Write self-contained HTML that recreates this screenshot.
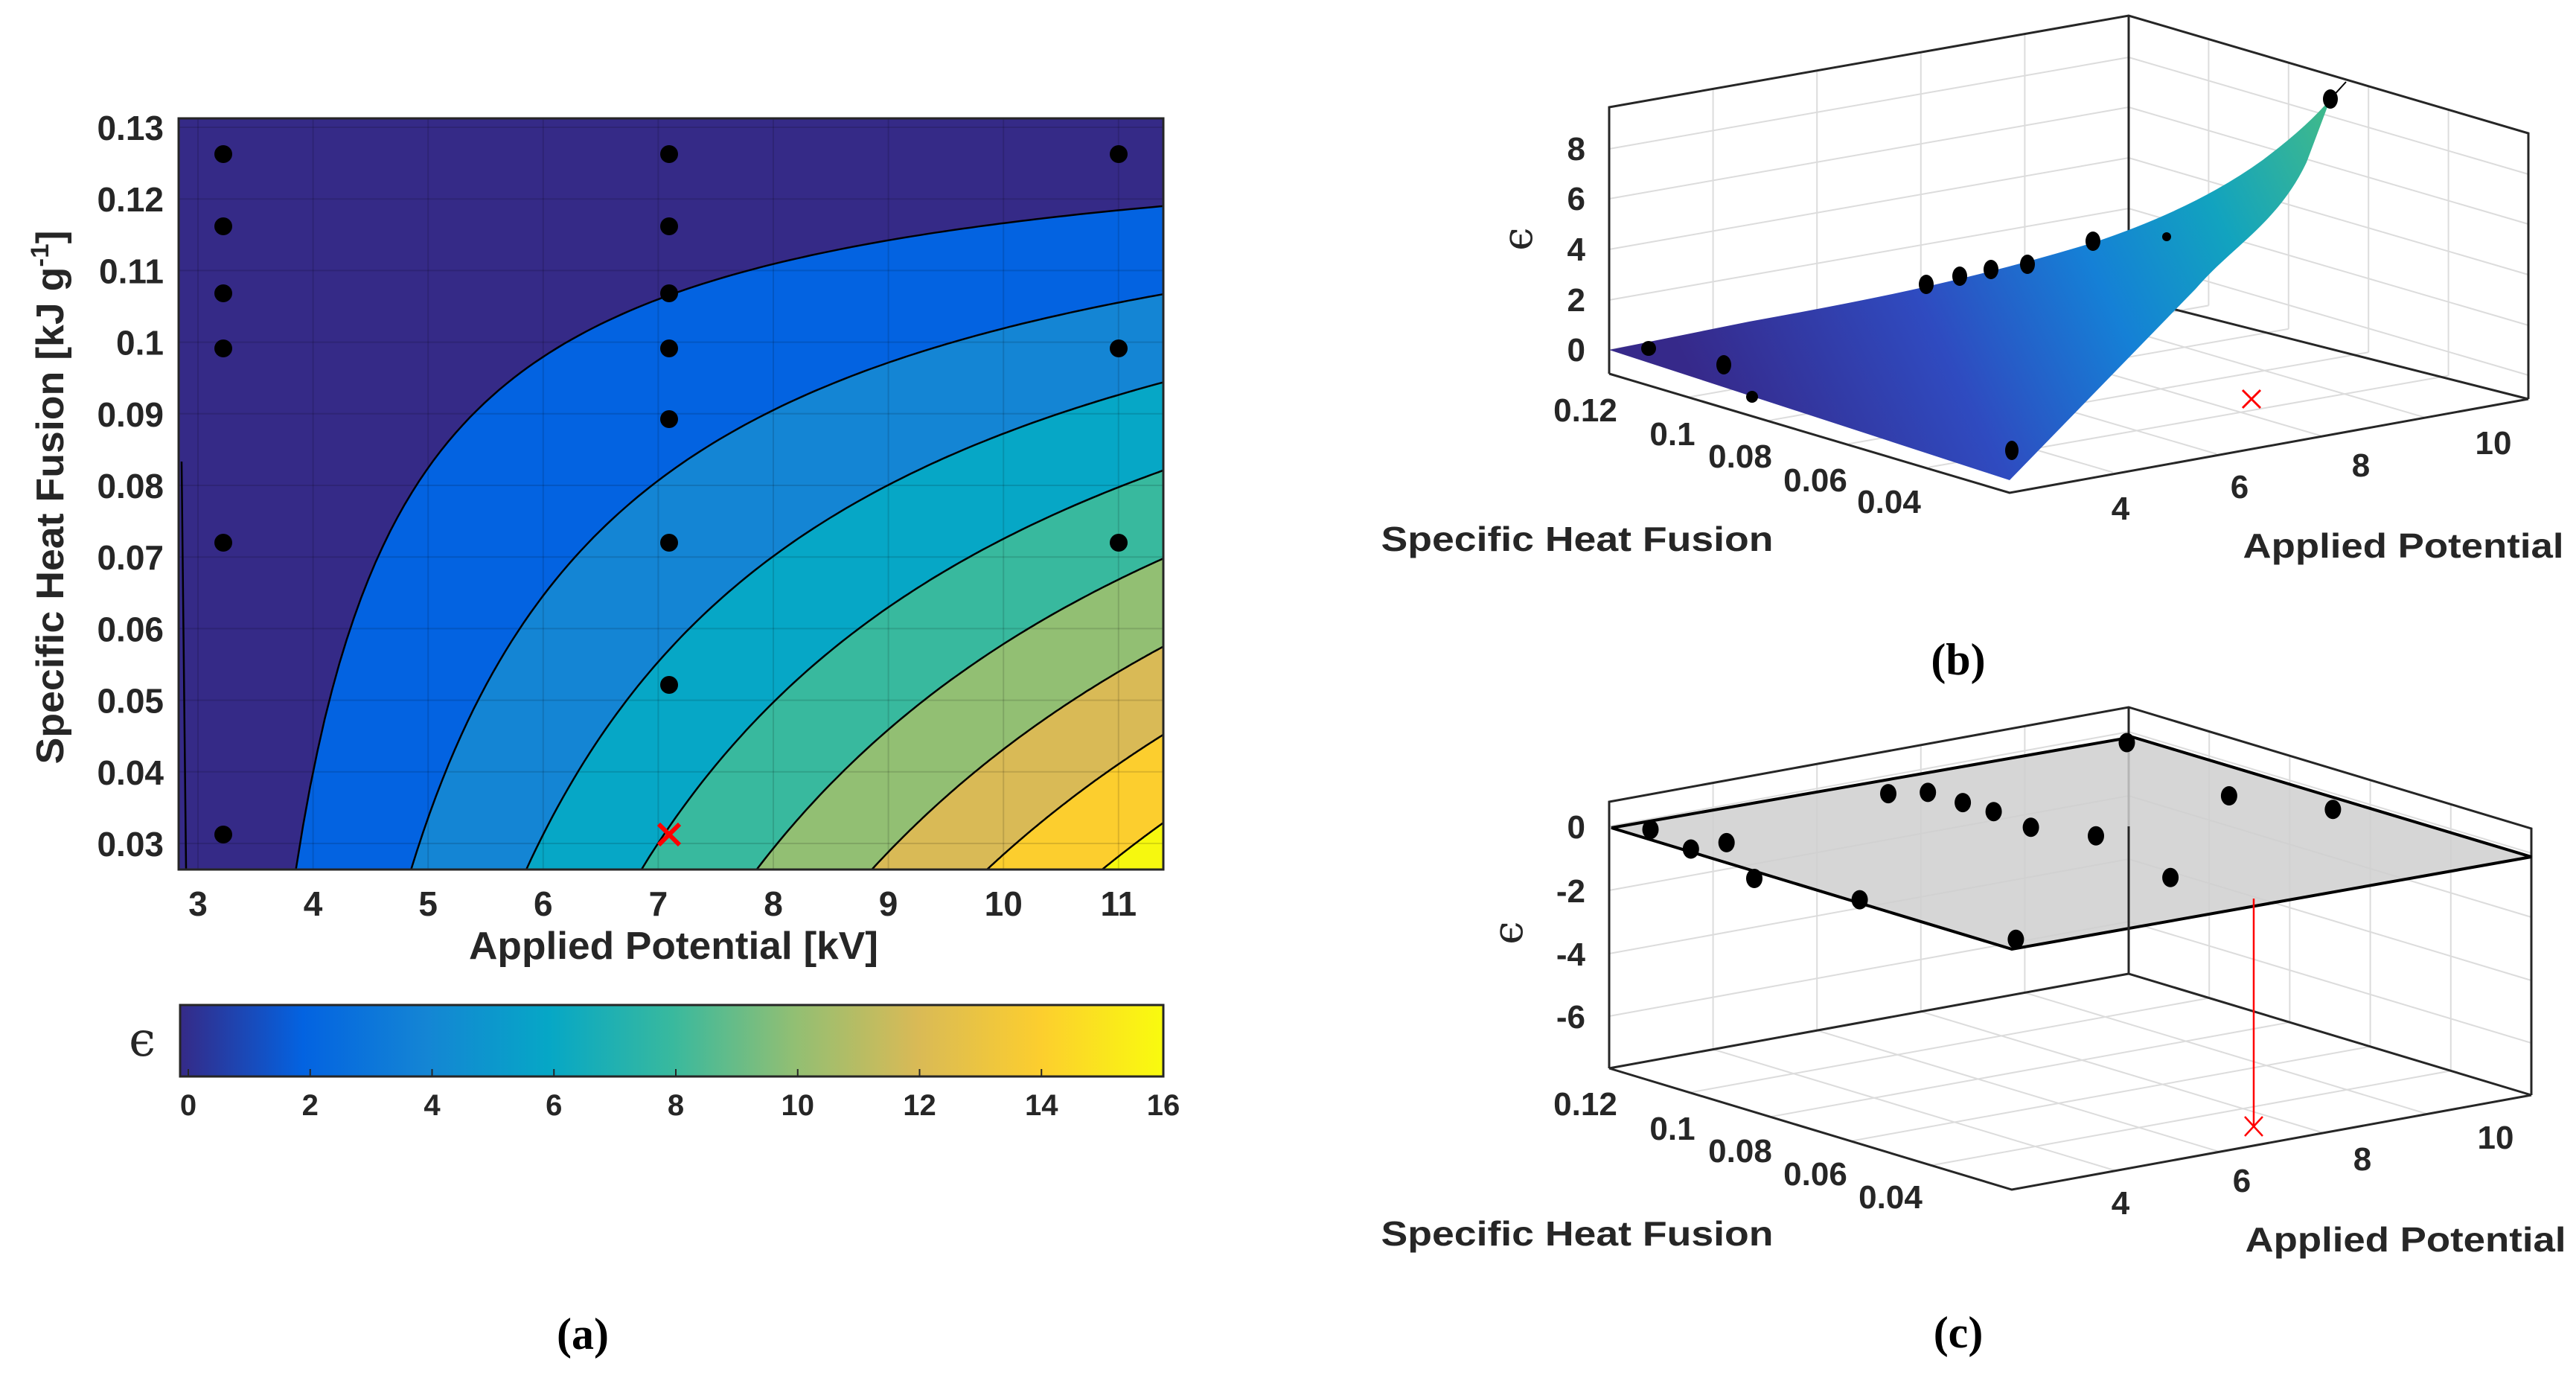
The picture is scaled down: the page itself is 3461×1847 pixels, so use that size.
<!DOCTYPE html>
<html><head><meta charset="utf-8"><style>
html,body{margin:0;padding:0;background:#fff}
svg{display:block}
text{font-family:"Liberation Sans",sans-serif;font-weight:bold;fill:#262626}
.s{font-family:"Liberation Serif",serif;font-weight:bold;fill:#000}
.e{font-family:"DejaVu Serif",serif;font-weight:normal;fill:#262626}
</style></head><body>
<svg id="g" xmlns="http://www.w3.org/2000/svg" width="3461" height="1847" viewBox="0 0 3461 1847">
<defs>
<linearGradient id="cb" x1="0" x2="1" y1="0" y2="0">
<stop offset="0" stop-color="#352a87"/><stop offset="0.125" stop-color="#0363e1"/><stop offset="0.25" stop-color="#1485d4"/><stop offset="0.375" stop-color="#06a7c6"/><stop offset="0.5" stop-color="#38b99e"/><stop offset="0.625" stop-color="#92bf73"/><stop offset="0.75" stop-color="#d9ba56"/><stop offset="0.875" stop-color="#fcce2e"/><stop offset="1" stop-color="#f9fb0e"/>
</linearGradient>
<linearGradient id="sf" gradientUnits="userSpaceOnUse" x1="2300" y1="560" x2="3120" y2="160">
<stop offset="0" stop-color="#36298a"/><stop offset="0.35" stop-color="#2f4bc0"/><stop offset="0.6" stop-color="#1580d6"/><stop offset="0.8" stop-color="#12a3bf"/><stop offset="1" stop-color="#3db88e"/>
</linearGradient>
<clipPath id="pc"><rect x="240" y="159" width="1323" height="1009"/></clipPath>
</defs>
<g id="cont" clip-path="url(#pc)"><rect x="240" y="159" width="1323" height="1009" fill="#352a87"/></g>
<g id="grid" stroke="#000" stroke-opacity="0.13" stroke-width="2"></g>
<rect x="240" y="159" width="1323" height="1009" fill="none" stroke="#262626" stroke-width="3"/>
<g id="pts"></g>
<g id="ticks" font-size="46"></g>
<text x="905" y="1288" font-size="52" text-anchor="middle" textLength="550" lengthAdjust="spacingAndGlyphs">Applied Potential [kV]</text>
<text transform="translate(85,668) rotate(-90)" font-size="52" text-anchor="middle" textLength="717" lengthAdjust="spacingAndGlyphs">Specific Heat Fusion [kJ g<tspan dy="-20" font-size="34">-1</tspan><tspan dy="20">]</tspan></text>
<rect x="242" y="1350" width="1321" height="96" fill="url(#cb)" stroke="#262626" stroke-width="3"/>
<text x="191" y="1418" font-size="64" class="e" text-anchor="middle">ϵ</text>
<g id="cbt" font-size="40"></g>
<text x="783" y="1812" font-size="60" class="s" text-anchor="middle">(a)</text>

<!-- panel b -->
<g fill="none" stroke="#dcdcdc" stroke-width="2" id="g3b"></g>
<g fill="none" stroke="#262626" stroke-width="3">
<path d="M2162,502 L2162,144 L2860,21 L3397,179 L3397,536"/>
<path d="M2860,21 L2860,400 L3397,536"/>
<path d="M2162,502 L2700,662 L3397,536"/>
</g>
<path d="M2162,470 L2350,432 Q2500,405 2588,385 Q2700,360 2812,326 Q2950,280 3040,215 Q3100,170 3131,133 L3099,218 C3060,300 3000,330 2950,388 L2700,645 Z" fill="url(#sf)"/>
<line x1="3131" y1="133" x2="3152" y2="110" stroke="#000" stroke-width="2"/>
<g fill="#000">
<circle cx="2215" cy="468" r="10"/><ellipse cx="2316" cy="490" rx="10" ry="13"/><circle cx="2354" cy="533" r="8"/><ellipse cx="2588" cy="382" rx="10" ry="13"/><ellipse cx="2633" cy="371" rx="10" ry="13"/><ellipse cx="2675" cy="362" rx="10" ry="13"/><ellipse cx="2724" cy="355" rx="10" ry="13"/><ellipse cx="2812" cy="324" rx="10" ry="13"/><circle cx="2911" cy="318" r="6"/><ellipse cx="2703" cy="605" rx="9" ry="13"/><ellipse cx="3131" cy="133" rx="10" ry="13"/>
</g>
<path d="M3013,524 L3037,548 M3037,524 L3013,548" stroke="#f00" stroke-width="3"/>
<g font-size="44" text-anchor="end">
<text x="2130" y="485">0</text><text x="2130" y="418">2</text><text x="2130" y="350">4</text><text x="2130" y="282">6</text><text x="2130" y="215">8</text>
</g>
<text transform="translate(2058,321) rotate(-90)" font-size="56" class="e" text-anchor="middle">ϵ</text>
<g font-size="44" text-anchor="middle">
<text x="2130" y="566">0.12</text><text x="2247" y="598">0.1</text><text x="2338" y="628">0.08</text><text x="2439" y="660">0.06</text><text x="2538" y="689">0.04</text>
<text x="2849" y="698">4</text><text x="3009" y="669">6</text><text x="3172" y="640">8</text><text x="3350" y="610">10</text>
</g>
<text x="2119" y="740" font-size="46" text-anchor="middle" textLength="527" lengthAdjust="spacingAndGlyphs">Specific Heat Fusion</text>
<text x="3229" y="749" font-size="46" text-anchor="middle" textLength="431" lengthAdjust="spacingAndGlyphs">Applied Potential</text>
<text x="2631" y="906" font-size="60" class="s" text-anchor="middle">(b)</text>

<!-- panel c -->
<g fill="none" stroke="#dcdcdc" stroke-width="2" id="g3c"></g>
<g fill="none" stroke="#262626" stroke-width="3">
<path d="M2162,1435 L2162,1077 L2860,950 L3401,1113 L3401,1471"/>
<path d="M2860,950 L2860,1308 L3401,1471 M2860,1308 L2162,1435"/>
<path d="M2162,1435 L2703,1598 L3401,1471"/>
</g>
<path d="M2165,1112 L2865,990 L3401,1151 L2703,1275 Z" fill="#cfcfcf" fill-opacity="0.85" stroke="#000" stroke-width="4"/>
<line x1="2860" y1="1110" x2="2860" y2="1296" stroke="#262626" stroke-width="3"/>
<line x1="3028" y1="1207" x2="3028" y2="1513" stroke="#f00" stroke-width="2.5"/>
<path d="M3016,1500 L3040,1526 M3040,1500 L3016,1526" stroke="#f00" stroke-width="2.5"/>
<g fill="#000" id="dc"></g>
<g font-size="44" text-anchor="end">
<text x="2130" y="1126">0</text><text x="2130" y="1212">-2</text><text x="2130" y="1297">-4</text><text x="2130" y="1381">-6</text>
</g>
<text transform="translate(2045,1253) rotate(-90)" font-size="56" class="e" text-anchor="middle">ϵ</text>
<g font-size="44" text-anchor="middle">
<text x="2130" y="1498">0.12</text><text x="2247" y="1531">0.1</text><text x="2338" y="1561">0.08</text><text x="2439" y="1592">0.06</text><text x="2540" y="1623">0.04</text>
<text x="2849" y="1631">4</text><text x="3012" y="1601">6</text><text x="3174" y="1572">8</text><text x="3353" y="1543">10</text>
</g>
<text x="2119" y="1673" font-size="46" text-anchor="middle" textLength="527" lengthAdjust="spacingAndGlyphs">Specific Heat Fusion</text>
<text x="3232" y="1681" font-size="46" text-anchor="middle" textLength="431" lengthAdjust="spacingAndGlyphs">Applied Potential</text>
<text x="2631" y="1810" font-size="60" class="s" text-anchor="middle">(c)</text>
</svg>
<script>
(function(){
var NS="http://www.w3.org/2000/svg";
function el(p,t,a,txt){var e=document.createElementNS(NS,t);for(var k in a)e.setAttribute(k,a[k]);if(txt!==undefined)e.textContent=txt;document.getElementById(p).appendChild(e);return e;}
function X(V){return 266+(V-3)*154.6;}
function Y(H){return 171+(0.13-H)*9620;}
var A=19.04,c=2.85,Hm=0.1313,Hb=0.0262,Ve=11.42;
var cols=["#0363e1","#1485d4","#06a7c6","#38b99e","#92bf73","#d9ba56","#fcce2e","#f6f80f"];
for(var i=0;i<8;i++){
 var L=2*(i+1);var Vs=c+L/(A*(Hm-Hb));var d="";
 for(var j=0;j<=120;j++){var V=Vs+(Ve-Vs)*j/120;var H=Hm-L/(A*(V-c));d+=(j?"L":"M")+X(V).toFixed(1)+","+Y(H).toFixed(1);}
 var d2=d+"L"+X(Ve)+","+Y(Hb)+"Z";
 el("cont","path",{d:d2,fill:cols[i]});
 el("cont","path",{d:d,fill:"none",stroke:"#000","stroke-width":2.5});
}
el("cont","line",{x1:244,y1:620,x2:250,y2:1168,stroke:"#000","stroke-width":2.5});
for(var v=3;v<=11;v++){el("grid","line",{x1:X(v),y1:159,x2:X(v),y2:1168});
 el("ticks","text",{x:X(v),y:1230,"text-anchor":"middle"},String(v));}
var yl=["0.03","0.04","0.05","0.06","0.07","0.08","0.09","0.1","0.11","0.12","0.13"];
for(var k=0;k<11;k++){var H=0.03+k*0.01;el("grid","line",{x1:240,y1:Y(H),x2:1563,y2:Y(H)});
 el("ticks","text",{x:220,y:Y(H)+17,"text-anchor":"end"},yl[k]);}
var pts=[[300,207],[300,304],[300,394],[300,468],[300,729],[300,1121],[899,207],[899,304],[899,394],[899,468],[899,563],[899,729],[899,920],[1503,207],[1503,468],[1503,729]];
pts.forEach(function(p){el("pts","circle",{cx:p[0],cy:p[1],r:12,fill:"#000"});});
el("pts","path",{d:"M885,1107L913,1135M913,1107L885,1135",stroke:"#f00","stroke-width":6});
for(var t=0;t<=16;t+=2){var x=253+(1563-253)*t/16;el("cbt","text",{x:x,y:1498,"text-anchor":"middle"},String(t));
 el("cbt","line",{x1:x,y1:1446,x2:x,y2:1436,stroke:"#262626","stroke-width":2});}
function grid3(id,o){
 var g=o;
 for(var s=1;s<5;s++){var f=s/5;var x=g.L[0]+(g.B[0]-g.L[0])*f,yt=g.L[1]+(g.B[1]-g.L[1])*f-g.h,yb=g.L[1]+(g.B[1]-g.L[1])*f;el(id,"line",{x1:x,y1:yt,x2:x,y2:yb});
  var x2=g.B[0]+(g.R[0]-g.B[0])*f,y2=g.B[1]+(g.R[1]-g.B[1])*f;el(id,"line",{x1:x2,y1:y2-g.h,x2:x2,y2:y2});
  el(id,"line",{x1:x,y1:yb,x2:x+(g.R[0]-g.B[0]),y2:yb+(g.R[1]-g.B[1])});
  el(id,"line",{x1:x2,y1:y2,x2:x2+(g.L[0]-g.B[0]),y2:y2+(g.L[1]-g.B[1])});
 }
 g.z.forEach(function(dz){el(id,"line",{x1:g.L[0],y1:g.L[1]-dz,x2:g.B[0],y2:g.B[1]-dz});el(id,"line",{x1:g.B[0],y1:g.B[1]-dz,x2:g.R[0],y2:g.R[1]-dz});});
}
grid3("g3b",{L:[2162,502],B:[2860,379],R:[3397,536],h:358,z:[32,99,167,235,302]});
grid3("g3c",{L:[2162,1435],B:[2860,1308],R:[3401,1471],h:358,z:[325,239,154,70]});
var dc=[[392,287],[443,333],[488,318],[523,402],[656,452],[692,203],[742,200],[786,224],[825,245],[872,282],[954,302],[853,545],[993,83],[1048,400],[1122,208],[1253,240]];
dc.forEach(function(p){el("dc","ellipse",{cx:(1800+p[0]/0.939).toFixed(1),cy:(950+p[1]/1.748).toFixed(1),rx:11,ry:13});});
})();
</script>
</body></html>
